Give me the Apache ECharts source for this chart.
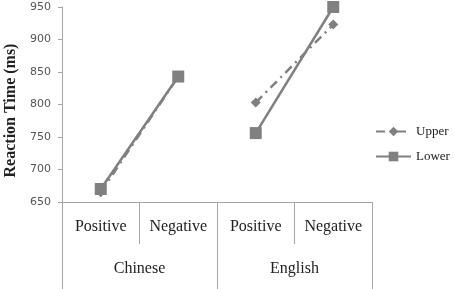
<!DOCTYPE html>
<html><head><meta charset="utf-8">
<script src="https://cdn.jsdelivr.net/npm/echarts@6/dist/echarts.min.js"></script>
<style>html,body{margin:0;padding:0;background:#fff}#c{width:454px;height:289px}</style>
</head><body><div id="c"></div>
<script>
var conditions = ['Positive', 'Negative', 'Positive', 'Negative'];
var languages = ['Chinese', 'English'];
var upperChinese = [665, 843, '-', '-'];
var upperEnglish = ['-', '-', 803, 923];
var lowerChinese = [670, 843, '-', '-'];
var lowerEnglish = ['-', '-', 756, 950];
var yTicks = {min: 650, max: 950, interval: 50};

var gray = '#808080';
var axisGray = '#a6a6a6';
function upper(data){ return {name:'Upper', type:'line', data:data, symbol:'diamond', symbolSize:10,
  itemStyle:{color:gray}, lineStyle:{color:gray, width:2.5, type:[9,5,2,5]}, z:3}; }
function lower(data){ return {name:'Lower', type:'line', data:data, symbol:'rect', symbolSize:12,
  itemStyle:{color:gray}, lineStyle:{color:gray, width:2.5}, z:2}; }

var chart = echarts.init(document.getElementById('c'), null, {renderer:'canvas'});
chart.setOption({
  animation:false,
  grid:{left:62, right:82, top:7, bottom:87, containLabel:false, outerBoundsMode:'none'},
  legend:{orient:'vertical', left:375, top:125, padding:0, itemGap:12, itemWidth:35, itemHeight:12,
    data:['Upper','Lower'],
    textStyle:{fontFamily:'Liberation Serif', fontSize:13, color:'#222'}},
  xAxis:[{
    type:'category', data:conditions, boundaryGap:true, position:'bottom',
    axisLine:{show:true, lineStyle:{color:axisGray, width:1}},
    axisTick:{show:true, interval:0, length:42, lineStyle:{color:axisGray}},
    axisLabel:{interval:0, margin:17, fontFamily:'Liberation Serif', fontSize:16, color:'#222'}
  },{
    type:'category', data:languages, boundaryGap:true, position:'bottom', offset:0,
    axisLine:{show:false},
    axisTick:{show:true, interval:0, length:90, lineStyle:{color:axisGray}},
    axisLabel:{interval:0, margin:59, fontFamily:'Liberation Serif', fontSize:16, color:'#222'}
  }],
  yAxis:{
    type:'value', min:yTicks.min, max:yTicks.max, interval:yTicks.interval,
    name:'Reaction Time (ms)', nameLocation:'middle', nameGap:43, nameRotate:90,
    nameTextStyle:{fontFamily:'Liberation Serif', fontWeight:'bold', fontSize:16, color:'#222', padding:[0,12,0,0]},
    axisLine:{show:true, lineStyle:{color:axisGray}},
    axisTick:{show:true, length:4, lineStyle:{color:axisGray}},
    splitLine:{show:false},
    axisLabel:{margin:11, fontFamily:'DejaVu Sans', fontSize:11, color:'#555'}
  },
  series:[upper(upperChinese), upper(upperEnglish), lower(lowerChinese), lower(lowerEnglish)]
});
</script></body></html>
